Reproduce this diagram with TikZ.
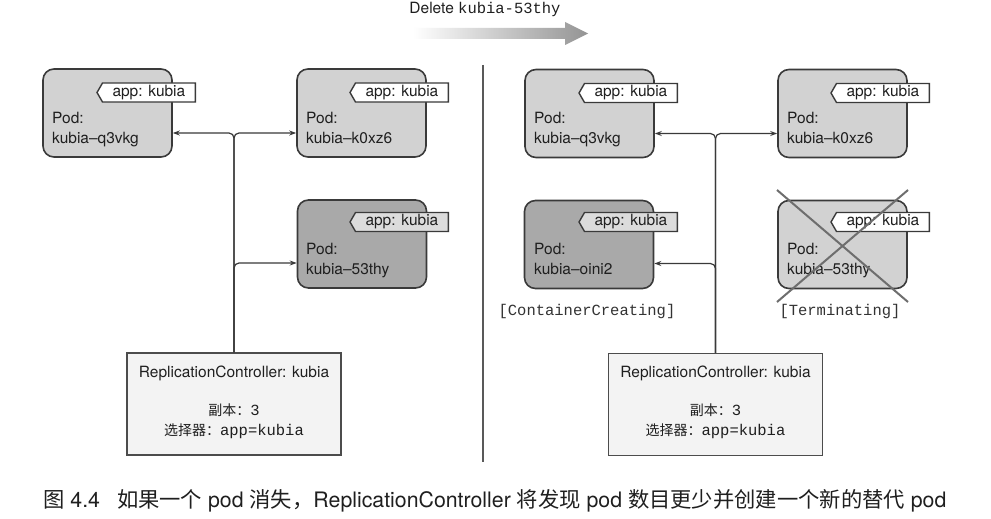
\documentclass[tikz,border=0pt]{standalone}
\usepackage{fontspec}
\setmainfont{TeX Gyre Heros}
\setmonofont{Liberation Mono}
\newfontfamily\cjk{Noto Sans CJK SC}
\usetikzlibrary{arrows.meta,shapes.symbols}

\definecolor{podgray}{HTML}{D2D2D2}
\definecolor{poddark}{HTML}{A9A9A9}
\definecolor{taglight}{HTML}{DCDCDC}
\definecolor{rcfill}{HTML}{F3F3F3}
\definecolor{edge}{HTML}{3A3A3A}
\definecolor{crossgray}{HTML}{6E6E6E}

\begin{document}
\begin{tikzpicture}[x=1pt, y=-1pt,
    >={Stealth[length=7pt,width=5pt]},
    pod/.style={draw=edge, line width=1.6pt, rounded corners=11pt, fill=podgray,
        minimum width=129pt, minimum height=88pt, inner sep=0pt},
    darkpod/.style={pod, fill=poddark},
    tag/.style={signal, signal to=west, signal pointer angle=120, draw=edge,
        line width=1.4pt, fill=white, minimum height=19pt, inner xsep=10pt,
        inner ysep=1pt, text=black!88, font=\fontsize{15.5}{20}\selectfont},
    darktag/.style={tag, fill=taglight},
    podtext/.style={align=left, inner sep=0pt, text=black!88,
        font=\fontsize{15.5}{20}\selectfont},
    rcbox/.style={draw=black!70, line width=1.1pt, fill=rcfill,
        minimum width=214pt, minimum height=102pt, inner sep=0pt},
    rctext/.style={align=center, inner sep=0pt, text=black!88,
        font=\fontsize{15.5}{20}\selectfont},
    state/.style={inner sep=0pt, text=black!80, font=\fontsize{15.5}{20}\selectfont\ttfamily},
    link/.style={draw=edge, line width=1.2pt, rounded corners=5pt, ->},
]
    \fill[white] (0,0) rectangle (991,519);
    \useasboundingbox (0,0) rectangle (991,519);

    % what happens between the two halves
    \node [rctext, anchor=base] (title) at (485,14) {Delete \texttt{kubia-53thy}};
    \shade [left color=white, right color=black!42]
        (413,28) -- (565,28) -- (565,22) -- (588,33.5) -- (565,45) -- (565,39) -- (413,39) -- cycle;
    \draw [black!65, line width=1.1pt] (483,65) -- (483,462);

    % before
    \node [pod] (p1) at (107.5,113) {};
    \node [tag, anchor=east] (t1) at (196,92.5) {app: kubia};
    \node [podtext, anchor=base west] (n1) at (52,143) {Pod:\\kubia--q3vkg};
    \node [pod] (p2) at (361.5,113) {};
    \node [tag, anchor=east] (t2) at (449,92.5) {app: kubia};
    \node [podtext, anchor=base west] (n2) at (306,143) {Pod:\\kubia--k0xz6};
    \node [darkpod] (p3) at (362,244) {};
    \node [darktag, anchor=east] (t3) at (449,222) {app: kubia};
    \node [podtext, anchor=base west] (n3) at (306,274) {Pod:\\kubia--53thy};
    \node [rcbox] (rc1) at (234,404) {};
    \node [rctext, anchor=base] (rt1) at (234,377) {ReplicationController: kubia};
    \node [rctext, anchor=base] (rs1) at (234,435) {{\cjk\fontsize{14}{20}\selectfont 副本：}\texttt{3}\\{\cjk\fontsize{14}{20}\selectfont 选择器：}\texttt{app=kubia}};
    \draw [link] (rc1.north) |- ([yshift=-20pt]p1.east);
    \draw [link] (rc1.north) |- ([yshift=-20pt]p2.west);
    \draw [link] (rc1.north) |- ([yshift=-19pt]p3.west);

    % after
    \node [pod] (q1) at (589.5,113.5) {};
    \node [tag, anchor=east] (u1) at (678,93) {app: kubia};
    \node [podtext, anchor=base west] (m1) at (534,143.5) {Pod:\\kubia--q3vkg};
    \node [pod] (q2) at (842.5,113.5) {};
    \node [tag, anchor=east] (u2) at (930,93) {app: kubia};
    \node [podtext, anchor=base west] (m2) at (787,143.5) {Pod:\\kubia--k0xz6};
    \node [darkpod] (q3) at (589,244.5) {};
    \node [darktag, anchor=east] (u3) at (678,222) {app: kubia};
    \node [podtext, anchor=base west] (m3) at (534,274) {Pod:\\kubia--oini2};
    \node [state, anchor=base] (s3) at (587,315) {[ContainerCreating]};
    \node [pod] (q4) at (842.5,244.5) {};
    \node [tag, anchor=east] (u4) at (930,222) {app: kubia};
    \node [podtext, anchor=base west] (m4) at (787,274) {Pod:\\kubia--53thy};
    \node [state, anchor=base] (s4) at (840,315) {[Terminating]};
    \draw [crossgray, line width=2pt] (777,190) -- (908,302);
    \draw [crossgray, line width=2pt] (908,190) -- (777,302);
    \node [rcbox] (rc2) at (715.5,404.5) {};
    \node [rctext, anchor=base] (rt2) at (715.5,377) {ReplicationController: kubia};
    \node [rctext, anchor=base] (rs2) at (715.5,435) {{\cjk\fontsize{14}{20}\selectfont 副本：}\texttt{3}\\{\cjk\fontsize{14}{20}\selectfont 选择器：}\texttt{app=kubia}};
    \draw [link] (rc2.north) |- ([yshift=-20pt]q1.east);
    \draw [link] (rc2.north) |- ([yshift=-20pt]q2.west);
    \draw [link] (rc2.north) |- ([yshift=-19pt]q3.east);

    % caption
    \node [inner sep=0pt, anchor=base west, text=black!88, font=\fontsize{21.3}{24}\selectfont] (cap) at (43,507)
        {{\cjk 图} 4.4\hspace{17pt}{\cjk 如果一个} pod {\cjk 消失，}ReplicationController {\cjk 将发现} pod {\cjk 数目更少并创建一个新的替代} pod};
\end{tikzpicture}
\end{document}
